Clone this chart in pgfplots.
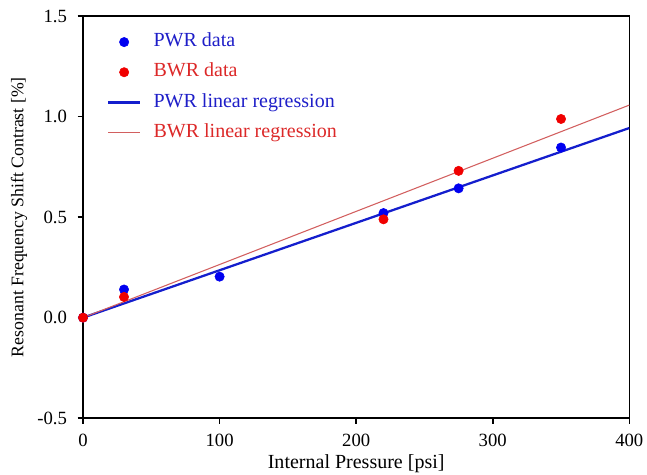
\documentclass[border=0pt]{standalone}
\usepackage{pgfplots}
\pgfplotsset{compat=1.18}
\usepackage{fontspec}
\setmainfont{Liberation Serif}
\definecolor{pwrmark}{RGB}{0,0,240}
\definecolor{bwrmark}{RGB}{240,0,0}
\definecolor{pwrline}{RGB}{20,30,205}
\definecolor{bwrline}{RGB}{210,95,95}
\definecolor{pwrtext}{RGB}{30,30,200}
\definecolor{bwrtext}{RGB}{220,40,40}
\pgfplotsset{
  markleg/.style={legend image code/.code={\path[##1] plot coordinates {(0.42cm,0cm)};}},
  lineleg/.style={legend image code/.code={\draw[##1] (0cm,0cm) -- (0.85cm,0cm);}},
}
\begin{document}
\fontsize{13}{15}\selectfont
\begin{tikzpicture}
\begin{axis}[
  at={(0,0)}, anchor=south west,
  scale only axis, width=409.5pt, height=301.5pt,
  xmin=0, xmax=400, ymin=-0.5, ymax=1.5,
  xtick={0,100,200,300,400}, ytick={-0.5,0,0.5,1,1.5},
  /pgf/number format/assume math mode=true,
  ticklabel style={font=\fontsize{14}{16}\selectfont},
  yticklabel style={xshift=-3.5pt, /pgf/number format/.cd, fixed, fixed zerofill, precision=1},
  xticklabel style={yshift=-3.5pt},
  tick align=outside, xtick pos=bottom, ytick pos=left,
  major tick length=4pt,
  axis line style={line width=1.2pt},
  tick style={line width=1.2pt, black},
  xlabel={Internal Pressure [psi]},
  ylabel={Resonant Frequency Shift Contrast [\%]},
  xlabel style={font=\fontsize{15}{17}\selectfont, at={(axis description cs:0.5,-0.112)}, anchor=center},
  ylabel style={font=\fontsize{13.3}{15}\selectfont, at={(axis description cs:-0.117,0.5)}, anchor=center},
  legend style={draw=none, fill=none, inner sep=0pt, at={(axis description cs:0.0435,0.964)}, anchor=north west,
    font=\fontsize{15}{17}\selectfont, row sep=5.6pt,
    nodes={inner sep=2pt, text height=10pt, text depth=3pt},
    /tikz/every odd column/.append style={column sep=7pt}},
  legend cell align=left,
]
\addlegendimage{only marks, mark=*, mark size=3.5pt, color=pwrmark, markleg}
\addlegendentry{\textcolor{pwrtext}{PWR data}}
\addlegendimage{only marks, mark=*, mark size=3.5pt, color=bwrmark, markleg}
\addlegendentry{\textcolor{bwrtext}{BWR data}}
\addlegendimage{pwrline, line width=1.7pt, lineleg}
\addlegendentry{\textcolor{pwrtext}{PWR linear regression}}
\addlegendimage{bwrline, line width=0.8pt, lineleg}
\addlegendentry{\textcolor{bwrtext}{BWR linear regression}}

\addplot[forget plot, pwrline, line width=1.7pt] coordinates {(0,0) (400,0.943)};
\addplot[forget plot, bwrline, line width=0.8pt] coordinates {(0,0) (400,1.057)};
\addplot[forget plot, only marks, mark=*, mark size=3.5pt, color=pwrmark] coordinates {
(0,0) (30,0.14) (100,0.204) (220,0.52) (275,0.643) (350,0.846)};
\addplot[forget plot, only marks, mark=*, mark size=3.5pt, color=bwrmark] coordinates {
(0,0) (30,0.103) (220,0.489) (275,0.73) (350,0.988)};
\end{axis}
\pgfresetboundingbox
\path (-62.25pt,-42pt) rectangle (422.75pt,313.5pt);
\end{tikzpicture}
\end{document}
